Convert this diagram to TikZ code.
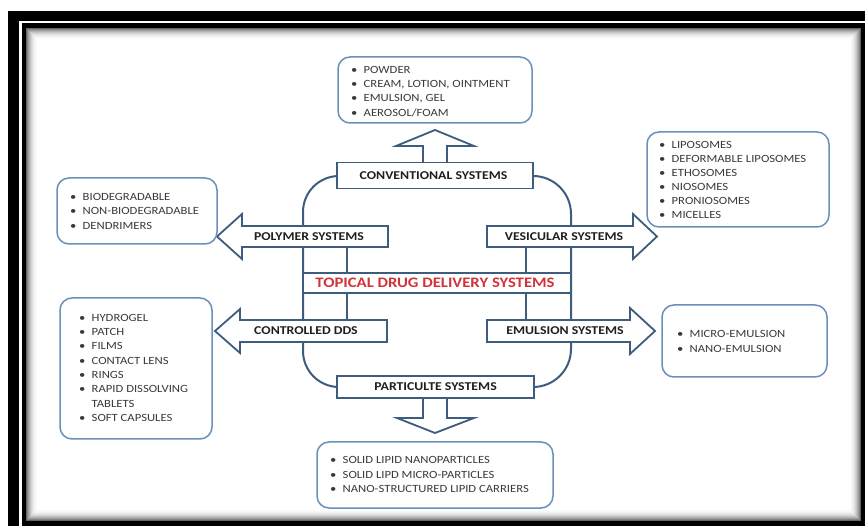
\documentclass[tikz,border=0pt]{standalone}
\usepackage{fontspec}
\setmainfont{Carlito}[FakeStretch=1.15]
\definecolor{boxline}{HTML}{6A8FBB}
\definecolor{arrline}{HTML}{3E5D7E}
\definecolor{txt}{HTML}{3A3A3A}
\definecolor{topred}{HTML}{D0343A}
\newcommand\bul{\makebox[12.5pt][l]{\textbullet}}
\tikzset{
  listbox/.style={draw=boxline, line width=1.5pt, rounded corners=12pt, fill=white},
  listtext/.style={anchor=north west, inner sep=0pt, align=left, text=txt},
  arrowshape/.style={draw=arrline, line width=1.8pt, fill=white, line join=miter},
  syslabel/.style={font=\bfseries\fontsize{12}{13}\selectfont, text=black!88, inner sep=0pt},
  sysbox/.style={draw=arrline, line width=1.8pt, fill=white, inner sep=0pt},
  conn/.style={draw=arrline, line width=2pt},
}
\begin{document}
\begin{tikzpicture}[x=1pt,y=-1pt]
\useasboundingbox (0,0) rectangle (865,526);
% frame
\fill[black] (8,11) rectangle (880,540);
\fill[white] (19,21) rectangle (880,540);
\fill[black] (22,23) rectangle (865,526);
\foreach \i/\g in {0/60,1/48,2/38,3/30,4/23,5/17,6/12,7/8,8/5,9/3,10/1.5,11/0}
  {\fill[black!\g] (26+\i,28+\i) rectangle (861-\i,521-\i);}
% big outline and inner connectors
\draw[conn, rounded corners=36pt] (337,176) -- (303,176) -- (303,387) -- (337,387);
\draw[conn, rounded corners=38pt] (533,176) -- (571,176) -- (571,387) -- (533,387);
\coordinate (pl1) at (347,246);
\coordinate (pl2) at (347,320);
\coordinate (pr1) at (526,246);
\coordinate (pr2) at (526,320);
\draw[conn] (pl1) -- (pl2);
\draw[conn] (pr1) -- (pr2);
% up and down arrows
\draw[arrowshape] (423,163) -- (423,146) -- (396,146) -- (435,130) -- (474,146) -- (447,146) -- (447,163);
\draw[arrowshape] (423,397) -- (423,418) -- (397,418) -- (435,433) -- (474,418) -- (447,418) -- (447,397);
% side arrows
\draw[arrowshape] (388,226) -- (242,226) -- (242,214) -- (217,236.5) -- (242,259) -- (242,247) -- (388,247) -- cycle;
\draw[arrowshape] (487,226) -- (633,226) -- (633,214) -- (657,236.5) -- (633,259) -- (633,247) -- (487,247) -- cycle;
\draw[arrowshape] (387,320) -- (240,320) -- (240,309) -- (215,331) -- (240,353) -- (240,342) -- (387,342) -- cycle;
\draw[arrowshape] (487,320) -- (630,320) -- (630,308) -- (655,331) -- (630,354) -- (630,342) -- (487,342) -- cycle;
\node[syslabel] (poly) at (309,236.5) {POLYMER SYSTEMS};
\node[syslabel] (vesi) at (564,236.5) {VESICULAR SYSTEMS};
\node[syslabel] (ctrl) at (306,331) {CONTROLLED DDS};
\node[syslabel] (emul) at (565,331) {EMULSION SYSTEMS};
% system boxes
\node[sysbox, minimum width=196pt, minimum height=26pt] (conv) at (435,175.5) {};
\node[syslabel] (convt) at (433.5,175.5) {CONVENTIONAL SYSTEMS};
\node[sysbox, minimum width=197pt, minimum height=22pt] (part) at (435.5,387) {};
\node[syslabel] (partt) at (part) {PARTICULTE SYSTEMS};
\node[sysbox, minimum width=268pt, minimum height=20pt] (topi) at (437,283) {};
\node[font=\bfseries\fontsize{14.5}{15}\selectfont, text=topred, inner sep=0pt] (topit) at (435,283) {TOPICAL DRUG DELIVERY SYSTEMS};
% list boxes
\draw[listbox] (338,57) rectangle (532,123);
\node[listtext, font=\fontsize{11}{14.3}\selectfont] (l1) at (351,66) {\bul POWDER\\\bul CREAM, LOTION, OINTMENT\\\bul EMULSION, GEL\\\bul AEROSOL/FOAM};
\draw[listbox] (57,178) rectangle (217,244);
\node[listtext, font=\fontsize{11}{14.5}\selectfont] (l2) at (70,193) {\bul BIODEGRADABLE\\\bul NON-BIODEGRADABLE\\\bul DENDRIMERS};
\draw[listbox] (647,132) rectangle (829,227);
\node[listtext, font=\fontsize{11}{14}\selectfont] (l3) at (659,141) {\bul LIPOSOMES\\\bul DEFORMABLE LIPOSOMES\\\bul ETHOSOMES\\\bul NIOSOMES\\\bul PRONIOSOMES\\\bul MICELLES};
\draw[listbox] (60,298) rectangle (212,439);
\node[listtext, font=\fontsize{11}{14.3}\selectfont] (l4) at (79,314) {\bul HYDROGEL\\\bul PATCH\\\bul FILMS\\\bul CONTACT LENS\\\bul RINGS\\\bul RAPID DISSOLVING\\\hspace*{12.5pt}TABLETS\\\bul SOFT CAPSULES};
\draw[listbox] (662,305) rectangle (827,377);
\node[listtext, font=\fontsize{11}{15}\selectfont] (l5) at (677,330) {\bul MICRO-EMULSION\\\bul NANO-EMULSION};
\draw[listbox] (317,442) rectangle (553,508);
\node[listtext, font=\fontsize{11}{14.8}\selectfont] (l6) at (330,456) {\bul SOLID LIPID NANOPARTICLES\\\bul SOLID LIPD MICRO-PARTICLES\\\bul NANO-STRUCTURED LIPID CARRIERS};
\end{tikzpicture}
\end{document}
